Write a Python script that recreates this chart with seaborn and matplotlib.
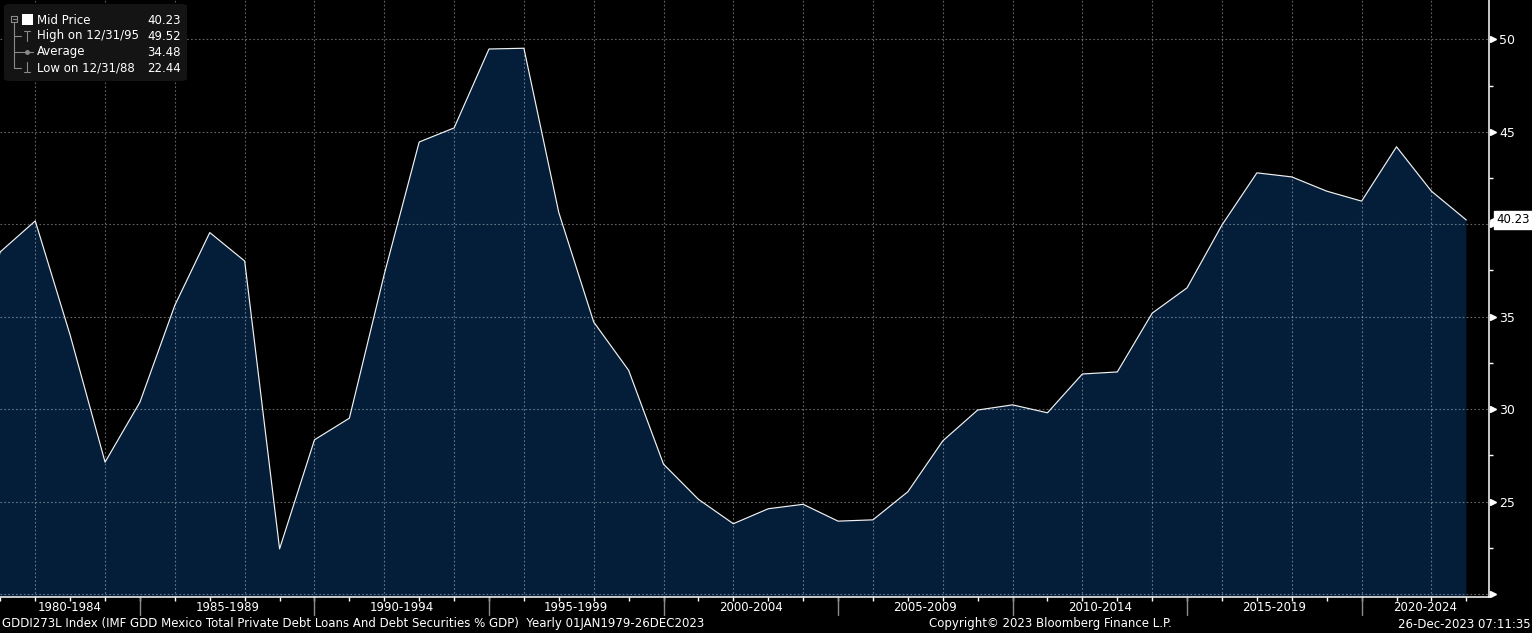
import numpy as np
import matplotlib
matplotlib.use("Agg")
import matplotlib.pyplot as plt
import matplotlib.transforms as mtransforms
from matplotlib.patches import FancyBboxPatch
from matplotlib import font_manager
import seaborn as sns

# yearly values of the index (one point per year end)
years = list(range(1979, 2023))
values = [32.70, 38.51, 40.18, 34.00, 27.13, 30.38, 35.62, 39.55, 38.01, 22.44,
          28.34, 29.51, 37.30, 44.45, 45.21, 49.48, 49.52, 40.63, 34.71, 32.10,
          27.02, 25.12, 23.80, 24.61, 24.85, 23.94, 24.01, 25.53, 28.28, 29.95,
          30.23, 29.80, 31.90, 32.01, 35.19, 36.56, 39.96, 42.78, 42.56, 41.79,
          41.25, 44.19, 41.79, 40.23]

period_starts = [1980, 1985, 1990, 1995, 2000, 2005, 2010, 2015, 2020]
period_labels = [f"{s}-{s + 4}" for s in period_starts]
ytick_vals = [20, 25, 30, 35, 40, 45, 50]
# 40 is hidden under the last-value tag, 20 has no label
ytick_labels = ["", "25", "30", "35", "", "45", "50"]
grid_years = years[2::2]

footer_left = ("GDDI273L Index (IMF GDD Mexico Total Private Debt Loans And Debt "
               "Securities % GDP)  Yearly 01JAN1979-26DEC2023")
footer_mid = "Copyright\u00a9 2023 Bloomberg Finance L.P."
footer_right = "26-Dec-2023 07:11:35"

navy = "#041e3a"
W, H = 1532, 633


def have_font(name):
    try:
        font_manager.findfont(font_manager.FontProperties(family=name),
                              fallback_to_default=False)
        return True
    except ValueError:
        return False


if have_font("Liberation Sans Narrow"):
    narrow, nsize = "Liberation Sans Narrow", 11
else:
    narrow, nsize = "DejaVu Sans", 8.5

sns.set_style("dark", rc={"axes.facecolor": "black", "figure.facecolor": "black"})
plt.rcParams["font.family"] = ["DejaVu Sans"]

fig = plt.figure(figsize=(W / 100, H / 100), dpi=100)
ax = fig.add_axes([0, 1 - 597.3 / H, 1489 / W, 597.3 / H])
ax.set_facecolor("black")

xmin, xmax = 1979.99, 2022.65
ax.set_xlim(xmin, xmax)
ax.set_ylim(19.82, 52.13)

ax.fill_between(years, values, 0, color=navy, lw=0, zorder=1)
sns.lineplot(x=years, y=values, ax=ax, color="#f2f2f2", lw=0.85, zorder=3)

# dotted grid drawn over the fill
for gx in grid_years:
    ax.axvline(gx, color="white", alpha=0.4, lw=0.8, ls=(0, (1.5, 2)), zorder=2)
for gy in ytick_vals:
    ax.axhline(gy, color="white", alpha=0.4, lw=0.8, ls=(0, (1.5, 2)), zorder=2)
ax.grid(False)

# spines
for s in ["left", "top"]:
    ax.spines[s].set_visible(False)
ax.spines["right"].set_color("white")
ax.spines["right"].set_linewidth(1.1)
ax.spines["bottom"].set_color("white")
ax.spines["bottom"].set_linewidth(1.1)

# y axis on the right
ax.yaxis.tick_right()
ax.set_yticks(ytick_vals)
ax.set_yticklabels(ytick_labels)
ax.set_yticks([v + 2.5 for v in ytick_vals[:-1]], minor=True)
ax.tick_params(axis="y", which="major", length=0, pad=7.2, labelcolor="white",
               labelsize=nsize + 0.5, labelfontfamily=narrow)
ax.tick_params(axis="y", which="minor", length=3, width=1, color="white",
               direction="out", right=True, left=False)
ytrans = mtransforms.blended_transform_factory(ax.transAxes, ax.transData)
ax.plot([1.003] * len(ytick_vals), ytick_vals, ls="none", marker=">", ms=5,
        color="white", transform=ytrans, clip_on=False, zorder=5)

# x axis: yearly ticks, period separators and centred period labels
ax.set_xticks(years[1:])
ax.set_xticklabels([])
ax.tick_params(axis="x", which="major", length=3, width=1, color="white",
               direction="out", bottom=True)
xtrans = mtransforms.blended_transform_factory(ax.transData, ax.transAxes)
for s, lab in zip(period_starts, period_labels):
    left = max(s - 1, xmin)
    right = min(s + 4, xmax)
    if s - 1 > xmin:
        ax.plot([s - 1, s - 1], [0, -0.029], color="#8c8c8c", lw=1,
                transform=xtrans, clip_on=False)
    ax.text((left + right) / 2, -0.017, lab, transform=xtrans, ha="center",
            va="center", color="white", fontsize=nsize, family=narrow)

# last value tag
last = values[-1]
ax.plot([1.0025], [last], ls="none", marker="<", ms=5, color="white",
        transform=ytrans, clip_on=False, zorder=6)
ax.text(1.0052, last, f"{last:.2f}", transform=ytrans, ha="left", va="center",
        color="black", fontsize=nsize, family=narrow, zorder=6,
        bbox=dict(boxstyle="square,pad=0.2", fc="white", ec="white"))

# footer
fy = 1 - 624 / H
fig.text(2 / W, fy, footer_left, ha="left", va="center", color="white",
         fontsize=nsize, family=narrow)
fig.text(1050 / W, fy, footer_mid, ha="center", va="center", color="white",
         fontsize=nsize, family=narrow)
fig.text(1531 / W, fy, footer_right, ha="right", va="center", color="white",
         fontsize=nsize, family=narrow)


# legend box in the top-left corner (pixel positions)
def px(x, y):
    return x / W, 1 - y / H


hi_idx = int(np.argmax(values))
lo_idx = int(np.argmin(values))
leg_rows = [("Mid Price", f"{values[-1]:.2f}"),
            (f"High on 12/31/{years[hi_idx] % 100:02d}", f"{values[hi_idx]:.2f}"),
            ("Average", f"{np.mean(values):.2f}"),
            (f"Low on 12/31/{years[lo_idx] % 100:02d}", f"{values[lo_idx]:.2f}")]

x0, y0 = px(4, 81)
x1, y1 = px(187, 4)
fig.patches.append(FancyBboxPatch((x0, y0), x1 - x0, y1 - y0,
                                  boxstyle="round,pad=0,rounding_size=0.004",
                                  transform=fig.transFigure, fc="#141414",
                                  ec="none", zorder=10))
row_y = [20.5, 36, 52, 68]
for (lab, val), ry in zip(leg_rows, row_y):
    fig.text(*px(37, ry), lab, ha="left", va="center", color="white",
             fontsize=8.5, zorder=11)
    fig.text(*px(181, ry), val, ha="right", va="center", color="white",
             fontsize=8.5, zorder=11)

gray = "#8a8a8a"


def seg(xa, ya, xb, yb, c=gray, lw=0.8):
    fig.add_artist(plt.Line2D([xa / W, xb / W], [1 - ya / H, 1 - yb / H],
                              transform=fig.transFigure, color=c, lw=lw,
                              zorder=11))


# tree lines and small icons
seg(14, 23, 14, 68)
for ry in row_y[1:]:
    seg(14, ry, 21, ry)
seg(11, 16, 17, 16); seg(17, 16, 17, 22); seg(17, 22, 11, 22); seg(11, 22, 11, 16)
seg(12.5, 19, 15.5, 19)
fig.patches.append(FancyBboxPatch(px(21.5, 25), 11 / W, 11.5 / H,
                                  boxstyle="square,pad=0", transform=fig.transFigure,
                                  fc="white", ec="none", zorder=11))
seg(26.5, 31, 26.5, 41); seg(23.5, 31, 29.5, 31)
seg(21, 52, 33, 52)
fig.add_artist(plt.Line2D([26.5 / W], [1 - 52 / H], transform=fig.transFigure,
                          marker="o", ms=2.5, color=gray, zorder=11))
seg(26.5, 62, 26.5, 72); seg(23.5, 72, 29.5, 72)

fig.savefig("out.png", dpi=100, facecolor="black")
